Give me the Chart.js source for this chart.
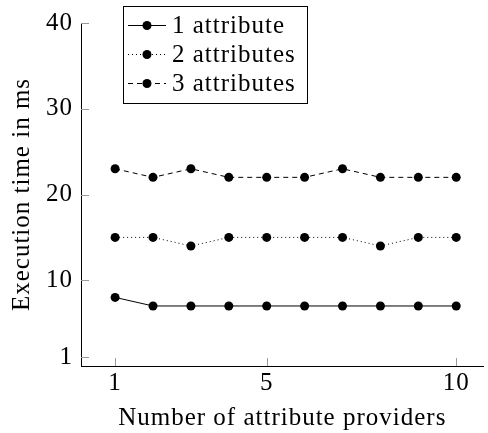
<!DOCTYPE html>
<html><head><meta charset="utf-8">
<script src="https://cdn.jsdelivr.net/npm/chart.js@4"></script>
<style>html,body{margin:0;padding:0;background:#fff}#c{display:block}</style>
</head><body>
<canvas id="c" width="488" height="433"></canvas>
<script>
const providers = [1,2,3,4,5,6,7,8,9,10];
const oneAttr = [8,7,7,7,7,7,7,7,7,7];
const twoAttr = [15,15,14,15,15,15,15,14,15,15];
const threeAttr = [23,22,23,22,22,22,23,22,22,22];
const seriesLabels = ['1 attribute','2 attributes','3 attributes'];
const xTicks = [1,5,10];
const yTicks = [1,10,20,30,40];
const xTitle = 'Number of attribute providers';
const yTitle = 'Execution time in ms';

const FONT = "'Liberation Serif', serif";
const FS = 25;
const SPACING = '1px';
const dashes = [[], [1,3], [5,4]];

function mk(vals, i){
  return {
    label: seriesLabels[i],
    data: providers.map((x,j)=>({x:x,y:vals[j]})),
    borderColor:'#000', backgroundColor:'#000',
    borderWidth:1, borderDash:dashes[i],
    pointRadius:4.5, pointHoverRadius:4.5, pointBorderWidth:0,
    pointBackgroundColor:'#000', tension:0
  };
}

const spacing = {
  id:'spacing',
  beforeUpdate(chart){ chart.ctx.letterSpacing = SPACING; },
  beforeDraw(chart){ chart.ctx.letterSpacing = SPACING; }
};

const innerTicks = {
  id:'innerTicks',
  afterDatasetsDraw(chart){
    const ctx = chart.ctx, a = chart.chartArea;
    const xs = chart.scales.x, ys = chart.scales.y;
    ctx.save();
    ctx.strokeStyle = '#9a9a9a'; ctx.lineWidth = 1;
    ctx.beginPath();
    xs.ticks.forEach(t=>{const p=Math.round(xs.getPixelForValue(t.value))+0.5; ctx.moveTo(p,a.bottom); ctx.lineTo(p,a.bottom-8);});
    ys.ticks.forEach(t=>{const p=Math.round(ys.getPixelForValue(t.value))+0.5; ctx.moveTo(a.left,p); ctx.lineTo(a.left+8,p);});
    ctx.stroke();
    ctx.restore();
  }
};

const boxLegend = {
  id:'boxLegend',
  afterDraw(chart){
    const ctx = chart.ctx;
    const L=123.5, T=6.5, R=307.5, B=103.5;
    ctx.save();
    ctx.fillStyle='#fff'; ctx.fillRect(L,T,R-L,B-T);
    ctx.strokeStyle='#000'; ctx.lineWidth=1; ctx.setLineDash([]);
    ctx.strokeRect(L,T,R-L,B-T);
    const rows=[25,54,83];
    chart.data.datasets.forEach((ds,i)=>{
      const y=rows[i];
      ctx.strokeStyle='#000'; ctx.lineWidth=1; ctx.setLineDash(ds.borderDash||[]);
      ctx.beginPath(); ctx.moveTo(128,y+0.5); ctx.lineTo(166,y+0.5); ctx.stroke();
      ctx.setLineDash([]);
      ctx.fillStyle='#000'; ctx.beginPath(); ctx.arc(147,y+0.5,4.5,0,Math.PI*2); ctx.fill();
      ctx.letterSpacing = SPACING;
      ctx.font = FS+'px '+FONT; ctx.textBaseline='middle'; ctx.textAlign='left';
      ctx.fillText(ds.label,172,y+1);
    });
    ctx.restore();
  }
};

new Chart(document.getElementById('c'),{
  type:'line',
  data:{datasets:[mk(oneAttr,0),mk(twoAttr,1),mk(threeAttr,2)]},
  options:{
    responsive:false, animation:false,
    layout:{padding:{top:23,right:0,left:0,bottom:0}},
    plugins:{legend:{display:false},tooltip:{enabled:false}},
    scales:{
      x:{type:'linear',min:0.1,max:10.72,
        afterBuildTicks(s){s.ticks=xTicks.map(v=>({value:v}));},
        afterFit(s){s.height=67;},
        grid:{display:false,drawTicks:false},
        border:{display:true,color:'#000',width:1},
        ticks:{color:'#000',font:{family:FONT,size:FS},padding:2,maxRotation:0},
        title:{display:true,text:xTitle,color:'#000',font:{family:FONT,size:FS},padding:{top:4,bottom:0}}
      },
      y:{type:'linear',min:0,max:40,
        afterBuildTicks(s){s.ticks=yTicks.map(v=>({value:v}));},
        afterFit(s){s.width=81;},
        grid:{display:false,drawTicks:false},
        border:{display:true,color:'#000',width:1},
        ticks:{color:'#000',font:{family:FONT,size:FS},padding:8},
        title:{display:true,text:yTitle,color:'#000',font:{family:FONT,size:FS},padding:{top:7,bottom:0}}
      }
    }
  },
  plugins:[spacing,innerTicks,boxLegend]
});
</script>
</body></html>
